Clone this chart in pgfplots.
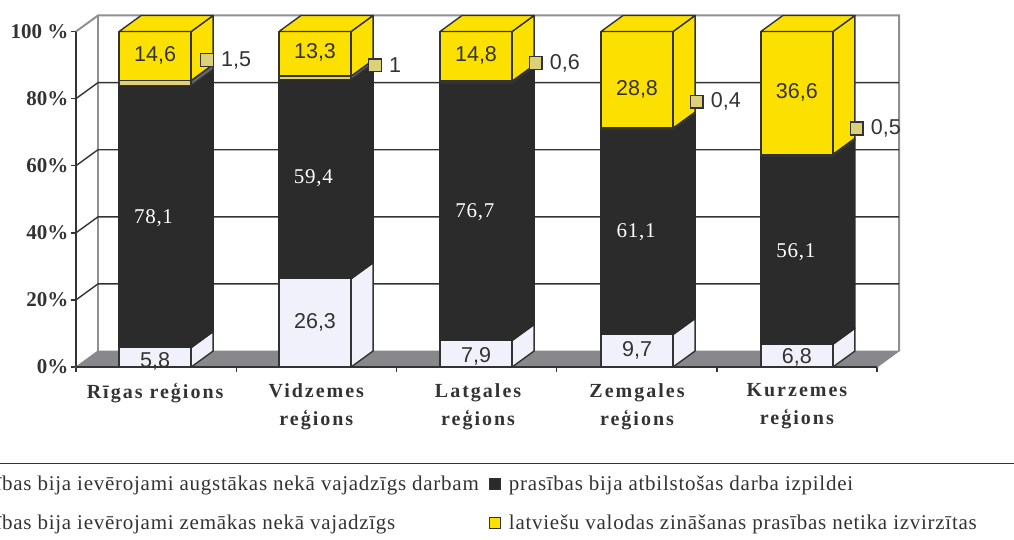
\documentclass[border=0pt]{standalone}
\usepackage{fontspec}
\usepackage{pgfplots}
\pgfplotsset{compat=1.18}
\setmainfont{Liberation Serif}
\newfontfamily\labfont{Liberation Sans}
\newfontfamily\catfont[LetterSpace=10]{Liberation Serif}
\newfontfamily\keyfont[LetterSpace=3.5]{Liberation Serif}
\definecolor{barblack}{HTML}{2B2B2B}
\definecolor{barlight}{HTML}{F0F1FA}
\definecolor{bartan}{HTML}{DDD07A}
\definecolor{bartanside}{HTML}{66666A}
\definecolor{baryellow}{HTML}{FCE100}
\definecolor{floorgrey}{HTML}{87878C}
\definecolor{wallgrey}{HTML}{8F8F94}
\definecolor{ink}{HTML}{333333}
% depth of the 3-D projection, half width of a bar (axis units)
\newcommand{\dX}{0.1373}
\newcommand{\dY}{4.77}
\newcommand{\hW}{0.225}
% one stack segment: centre, from, to, front colour, side colour, edge colour
\newcommand{\segment}[6]{%
  \addplot[fill=#5,draw=#6,line width=1.4pt,line join=round,forget plot] coordinates
    {({#1+\hW},{#2}) ({#1+\hW+\dX},{#2+\dY}) ({#1+\hW+\dX},{#3+\dY}) ({#1+\hW},{#3})} -- cycle;
  \addplot[fill=#4,draw=#6,line width=1.4pt,line join=round,forget plot] coordinates
    {({#1-\hW},{#2}) ({#1+\hW},{#2}) ({#1+\hW},{#3}) ({#1-\hW},{#3})} -- cycle;
}
% a whole column: centre, then the four shares from bottom to top
\newcommand{\stackcolumn}[5]{%
  \segment{#1}{0}{#2}{barlight}{barlight}{ink}
  \segment{#1}{#2}{#2+#3}{barblack}{barblack}{barblack}
  \segment{#1}{#2+#3}{#2+#3+#4}{bartan}{bartanside}{ink}
  \segment{#1}{#2+#3+#4}{#2+#3+#4+#5}{baryellow}{baryellow}{ink}
  \addplot[fill=baryellow,draw=ink,line width=1.4pt,line join=round,forget plot] coordinates
    {({#1-\hW},{#2+#3+#4+#5}) ({#1+\hW},{#2+#3+#4+#5})
     ({#1+\hW+\dX},{#2+#3+#4+#5+\dY}) ({#1-\hW+\dX},{#2+#3+#4+#5+\dY})} -- cycle;
}
% small tan key with the share of the thin segment beside it
\newcommand{\thinkey}[3]{%
  \addplot[only marks,mark=square*,mark size=6.4pt,
           mark options={fill=bartan,draw=ink,line width=1.4pt},forget plot]
    coordinates {(#1,#2)} node[right=14pt,inner sep=0pt,font=\labfont\fontsize{21.5}{21.5}\selectfont,text=ink] {#3};
}
\newcommand{\lightlabel}[3]{\node[font=\labfont\fontsize{21.5}{21.5}\selectfont,text=ink,yshift=-2pt] at (axis cs:#1,#2) {#3};}
\newcommand{\whitelabel}[3]{\node[font=\keyfont\fontsize{21}{21}\selectfont,text=white,yshift=-2pt] at (axis cs:#1,#2) {#3};}
\newcommand{\keyimage}[1]{\addlegendimage{fill=#1,draw=ink,line width=1.2pt}}
\begin{document}
\begin{tikzpicture}
\begin{axis}[
  scale only axis,width=801pt,height=335.5pt,
  xmin=0,xmax=5,ymin=0,ymax=100,clip=false,
  axis lines=left,axis line style={-,draw=ink,line width=1.5pt},
  tick align=outside,
  ytick={0,20,40,60,80,100},
  yticklabels={0\%,20\%,40\%,60\%,80\%,100 \%},
  yticklabel style={font=\bfseries\fontsize{21}{21}\selectfont,text=ink,inner sep=0pt,xshift=-2.5pt},
  ytick style={draw=ink,line width=1.4pt},
  major tick length=5pt,
  xtick={0.494,1.5,2.51,3.502,4.5},
  xticklabels={{Rīgas reģions},{Vidzemes\\reģions},{Latgales\\reģions},{Zemgales\\reģions},{Kurzemes\\reģions}},
  xticklabel style={font=\catfont\bfseries\fontsize{20}{28}\selectfont,text=ink,align=center,anchor=north,yshift=-8pt},
  xtick style={draw=none},
  minor xtick={0,1,2,3,4,5},
  minor x tick style={draw=ink,line width=1.4pt},
  minor tick length=5pt,
  legend columns=2,
  legend cell align=left,
  legend image code/.code={\draw[#1] (0pt,-5.5pt) rectangle (11pt,5.5pt); \path (17pt,0pt);},
  legend style={at={(axis cs:5.0,0)},anchor=north east,draw=none,fill=none,
    xshift=105pt,yshift=-105pt,
    font=\keyfont\fontsize{21}{21}\selectfont,text=ink,
    row sep=19pt,
    /tikz/every even column/.append style={column sep=8pt}},
]
% walls and floor
\addplot[fill=floorgrey,draw=floorgrey,line width=1pt,forget plot] coordinates
  {(0,0) (\dX,\dY) (5+\dX,\dY) (5,0)} -- cycle;
\addplot[draw=wallgrey,line width=2pt,forget plot] coordinates
  {(0,100) (\dX,100+\dY) (5+\dX,100+\dY) (5+\dX,\dY)};
\addplot[draw=wallgrey,line width=2pt,forget plot] coordinates {(\dX,\dY) (\dX,100+\dY)};
\pgfplotsinvokeforeach{20,40,60,80}{
  \addplot[draw=ink,line width=1.4pt,forget plot] coordinates {(0,#1) (\dX,#1+\dY) (5+\dX,#1+\dY)};
}
\addplot[draw=ink,line width=1.5pt,forget plot] coordinates {(0,0) (5,0)};
% columns: middle of each bar, then shares from bottom to top
\stackcolumn{0.494}{5.8}{78.1}{1.5}{14.6}
\stackcolumn{1.492}{26.3}{59.4}{1}{13.3}
\stackcolumn{2.497}{7.9}{76.7}{0.6}{14.8}
\stackcolumn{3.502}{9.7}{61.1}{0.4}{28.8}
\stackcolumn{4.500}{6.8}{56.1}{0.5}{36.6}
% keys of the thin segments
\thinkey{0.817}{91.5}{1,5}
\thinkey{1.866}{89.9}{1}
\thinkey{2.87}{90.6}{0,6}
\thinkey{3.875}{79.1}{0,4}
\thinkey{4.873}{71.1}{0,5}
% value labels
\lightlabel{0.494}{93.6}{14,6}
\lightlabel{1.492}{94.5}{13,3}
\lightlabel{2.497}{93.6}{14,8}
\lightlabel{3.502}{83.2}{28,8}
\lightlabel{4.500}{82.6}{36,6}
\whitelabel{0.484}{45}{78,1}
\whitelabel{1.482}{56.9}{59,4}
\whitelabel{2.490}{46.8}{76,7}
\whitelabel{3.496}{40.8}{61,1}
\whitelabel{4.494}{34.9}{56,1}
\lightlabel{0.494}{2.4}{5,8}
\lightlabel{1.492}{14}{26,3}
\lightlabel{2.497}{3.9}{7,9}
\lightlabel{3.502}{5.7}{9,7}
\lightlabel{4.500}{3.6}{6,8}
% legend, two columns
\keyimage{barlight}
\addlegendentry{prasības bija ievērojami augstākas nekā vajadzīgs darbam}
\keyimage{barblack}
\addlegendentry{prasības bija atbilstošas darba izpildei}
\keyimage{bartan}
\addlegendentry{prasības bija ievērojami zemākas nekā vajadzīgs}
\keyimage{baryellow}
\addlegendentry{latviešu valodas zināšanas prasības netika izvirzītas}
\end{axis}
% rule above the legend
\draw[draw=ink,line width=1.5pt] (-76pt,-96.5pt) -- (938pt,-96.5pt);
\pgfresetboundingbox
\path[use as bounding box] (-76pt,-172pt) rectangle (938pt,367pt);
\end{tikzpicture}
\end{document}
